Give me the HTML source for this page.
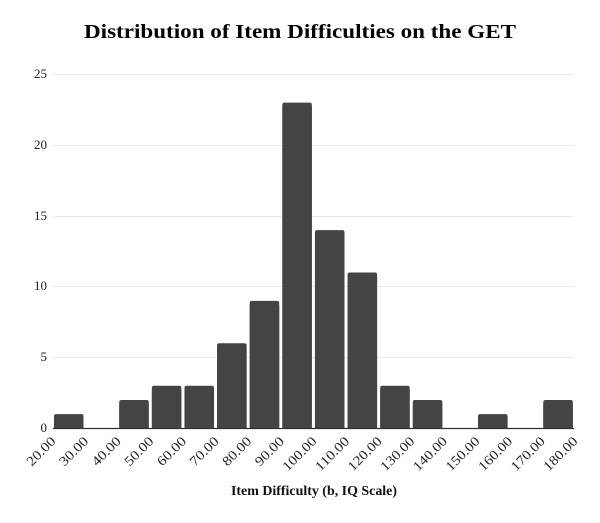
<!DOCTYPE html>
<html><head><meta charset="utf-8"><style>
html,body{margin:0;padding:0;background:#fff;}
svg{display:block;font-family:"Liberation Serif",serif;}
</style></head><body>
<svg width="600" height="523" viewBox="0 0 600 523" xmlns="http://www.w3.org/2000/svg">
<rect width="600" height="523" fill="#fff"/>
<text x="300" y="38" text-anchor="middle" font-size="20" font-weight="bold" fill="#000" textLength="432" lengthAdjust="spacingAndGlyphs">Distribution of Item Difficulties on the GET</text>
<g stroke="#ebebeb" stroke-width="1">
<line x1="53" x2="574" y1="74.5" y2="74.5"/>
<line x1="53" x2="574" y1="145.5" y2="145.5"/>
<line x1="53" x2="574" y1="216.5" y2="216.5"/>
<line x1="53" x2="574" y1="286.5" y2="286.5"/>
<line x1="53" x2="574" y1="357.5" y2="357.5"/>
</g>
<g font-size="13" fill="#222" text-anchor="end">
<text x="47" y="78">25</text>
<text x="47" y="149">20</text>
<text x="47" y="220">15</text>
<text x="47" y="290">10</text>
<text x="47" y="361">5</text>
<text x="47" y="432">0</text>
</g>
<g fill="#444">
<rect x="54" y="414.1" width="29.5" height="14.2" rx="2"/><rect x="54" y="418" width="29.5" height="10.3"/>
<rect x="119.24" y="400" width="29.5" height="28.3" rx="2"/><rect x="119.24" y="404" width="29.5" height="24.3"/>
<rect x="151.86" y="385.8" width="29.5" height="42.5" rx="2"/><rect x="151.86" y="390" width="29.5" height="38.3"/>
<rect x="184.48" y="385.8" width="29.5" height="42.5" rx="2"/><rect x="184.48" y="390" width="29.5" height="38.3"/>
<rect x="217.1" y="343.3" width="29.5" height="85" rx="2"/><rect x="217.1" y="347" width="29.5" height="81.3"/>
<rect x="249.72" y="300.9" width="29.5" height="127.4" rx="2"/><rect x="249.72" y="305" width="29.5" height="123.3"/>
<rect x="282.34" y="102.6" width="29.5" height="325.7" rx="2"/><rect x="282.34" y="106" width="29.5" height="322.3"/>
<rect x="314.96" y="230.1" width="29.5" height="198.2" rx="2"/><rect x="314.96" y="234" width="29.5" height="194.3"/>
<rect x="347.58" y="272.5" width="29.5" height="155.8" rx="2"/><rect x="347.58" y="276" width="29.5" height="152.3"/>
<rect x="380.2" y="385.8" width="29.5" height="42.5" rx="2"/><rect x="380.2" y="390" width="29.5" height="38.3"/>
<rect x="412.82" y="400" width="29.5" height="28.3" rx="2"/><rect x="412.82" y="404" width="29.5" height="24.3"/>
<rect x="478.06" y="414.1" width="29.5" height="14.2" rx="2"/><rect x="478.06" y="418" width="29.5" height="10.3"/>
<rect x="543.3" y="400" width="29.5" height="28.3" rx="2"/><rect x="543.3" y="404" width="29.5" height="24.3"/>
</g>
<line x1="53" x2="574" y1="428.5" y2="428.5" stroke="#333" stroke-width="1.2"/>
<g font-size="13.5" fill="#222" text-anchor="end">
<text transform="translate(56.5,442) rotate(-45)" textLength="35" lengthAdjust="spacingAndGlyphs">20.00</text>
<text transform="translate(89.12,442) rotate(-45)" textLength="35" lengthAdjust="spacingAndGlyphs">30.00</text>
<text transform="translate(121.74,442) rotate(-45)" textLength="35" lengthAdjust="spacingAndGlyphs">40.00</text>
<text transform="translate(154.36,442) rotate(-45)" textLength="35" lengthAdjust="spacingAndGlyphs">50.00</text>
<text transform="translate(186.98,442) rotate(-45)" textLength="35" lengthAdjust="spacingAndGlyphs">60.00</text>
<text transform="translate(219.6,442) rotate(-45)" textLength="35" lengthAdjust="spacingAndGlyphs">70.00</text>
<text transform="translate(252.22,442) rotate(-45)" textLength="35" lengthAdjust="spacingAndGlyphs">80.00</text>
<text transform="translate(284.84,442) rotate(-45)" textLength="35" lengthAdjust="spacingAndGlyphs">90.00</text>
<text transform="translate(317.46,442) rotate(-45)" textLength="42" lengthAdjust="spacingAndGlyphs">100.00</text>
<text transform="translate(350.08,442) rotate(-45)" textLength="42" lengthAdjust="spacingAndGlyphs">110.00</text>
<text transform="translate(382.7,442) rotate(-45)" textLength="42" lengthAdjust="spacingAndGlyphs">120.00</text>
<text transform="translate(415.32,442) rotate(-45)" textLength="42" lengthAdjust="spacingAndGlyphs">130.00</text>
<text transform="translate(447.94,442) rotate(-45)" textLength="42" lengthAdjust="spacingAndGlyphs">140.00</text>
<text transform="translate(480.56,442) rotate(-45)" textLength="42" lengthAdjust="spacingAndGlyphs">150.00</text>
<text transform="translate(513.18,442) rotate(-45)" textLength="42" lengthAdjust="spacingAndGlyphs">160.00</text>
<text transform="translate(545.8,442) rotate(-45)" textLength="42" lengthAdjust="spacingAndGlyphs">170.00</text>
<text transform="translate(578.42,442) rotate(-45)" textLength="42" lengthAdjust="spacingAndGlyphs">180.00</text>
</g>
<text x="314" y="495" text-anchor="middle" font-size="13.5" font-weight="bold" fill="#111" textLength="166" lengthAdjust="spacingAndGlyphs">Item Difficulty (b, IQ Scale)</text>
</svg>
</body></html>
